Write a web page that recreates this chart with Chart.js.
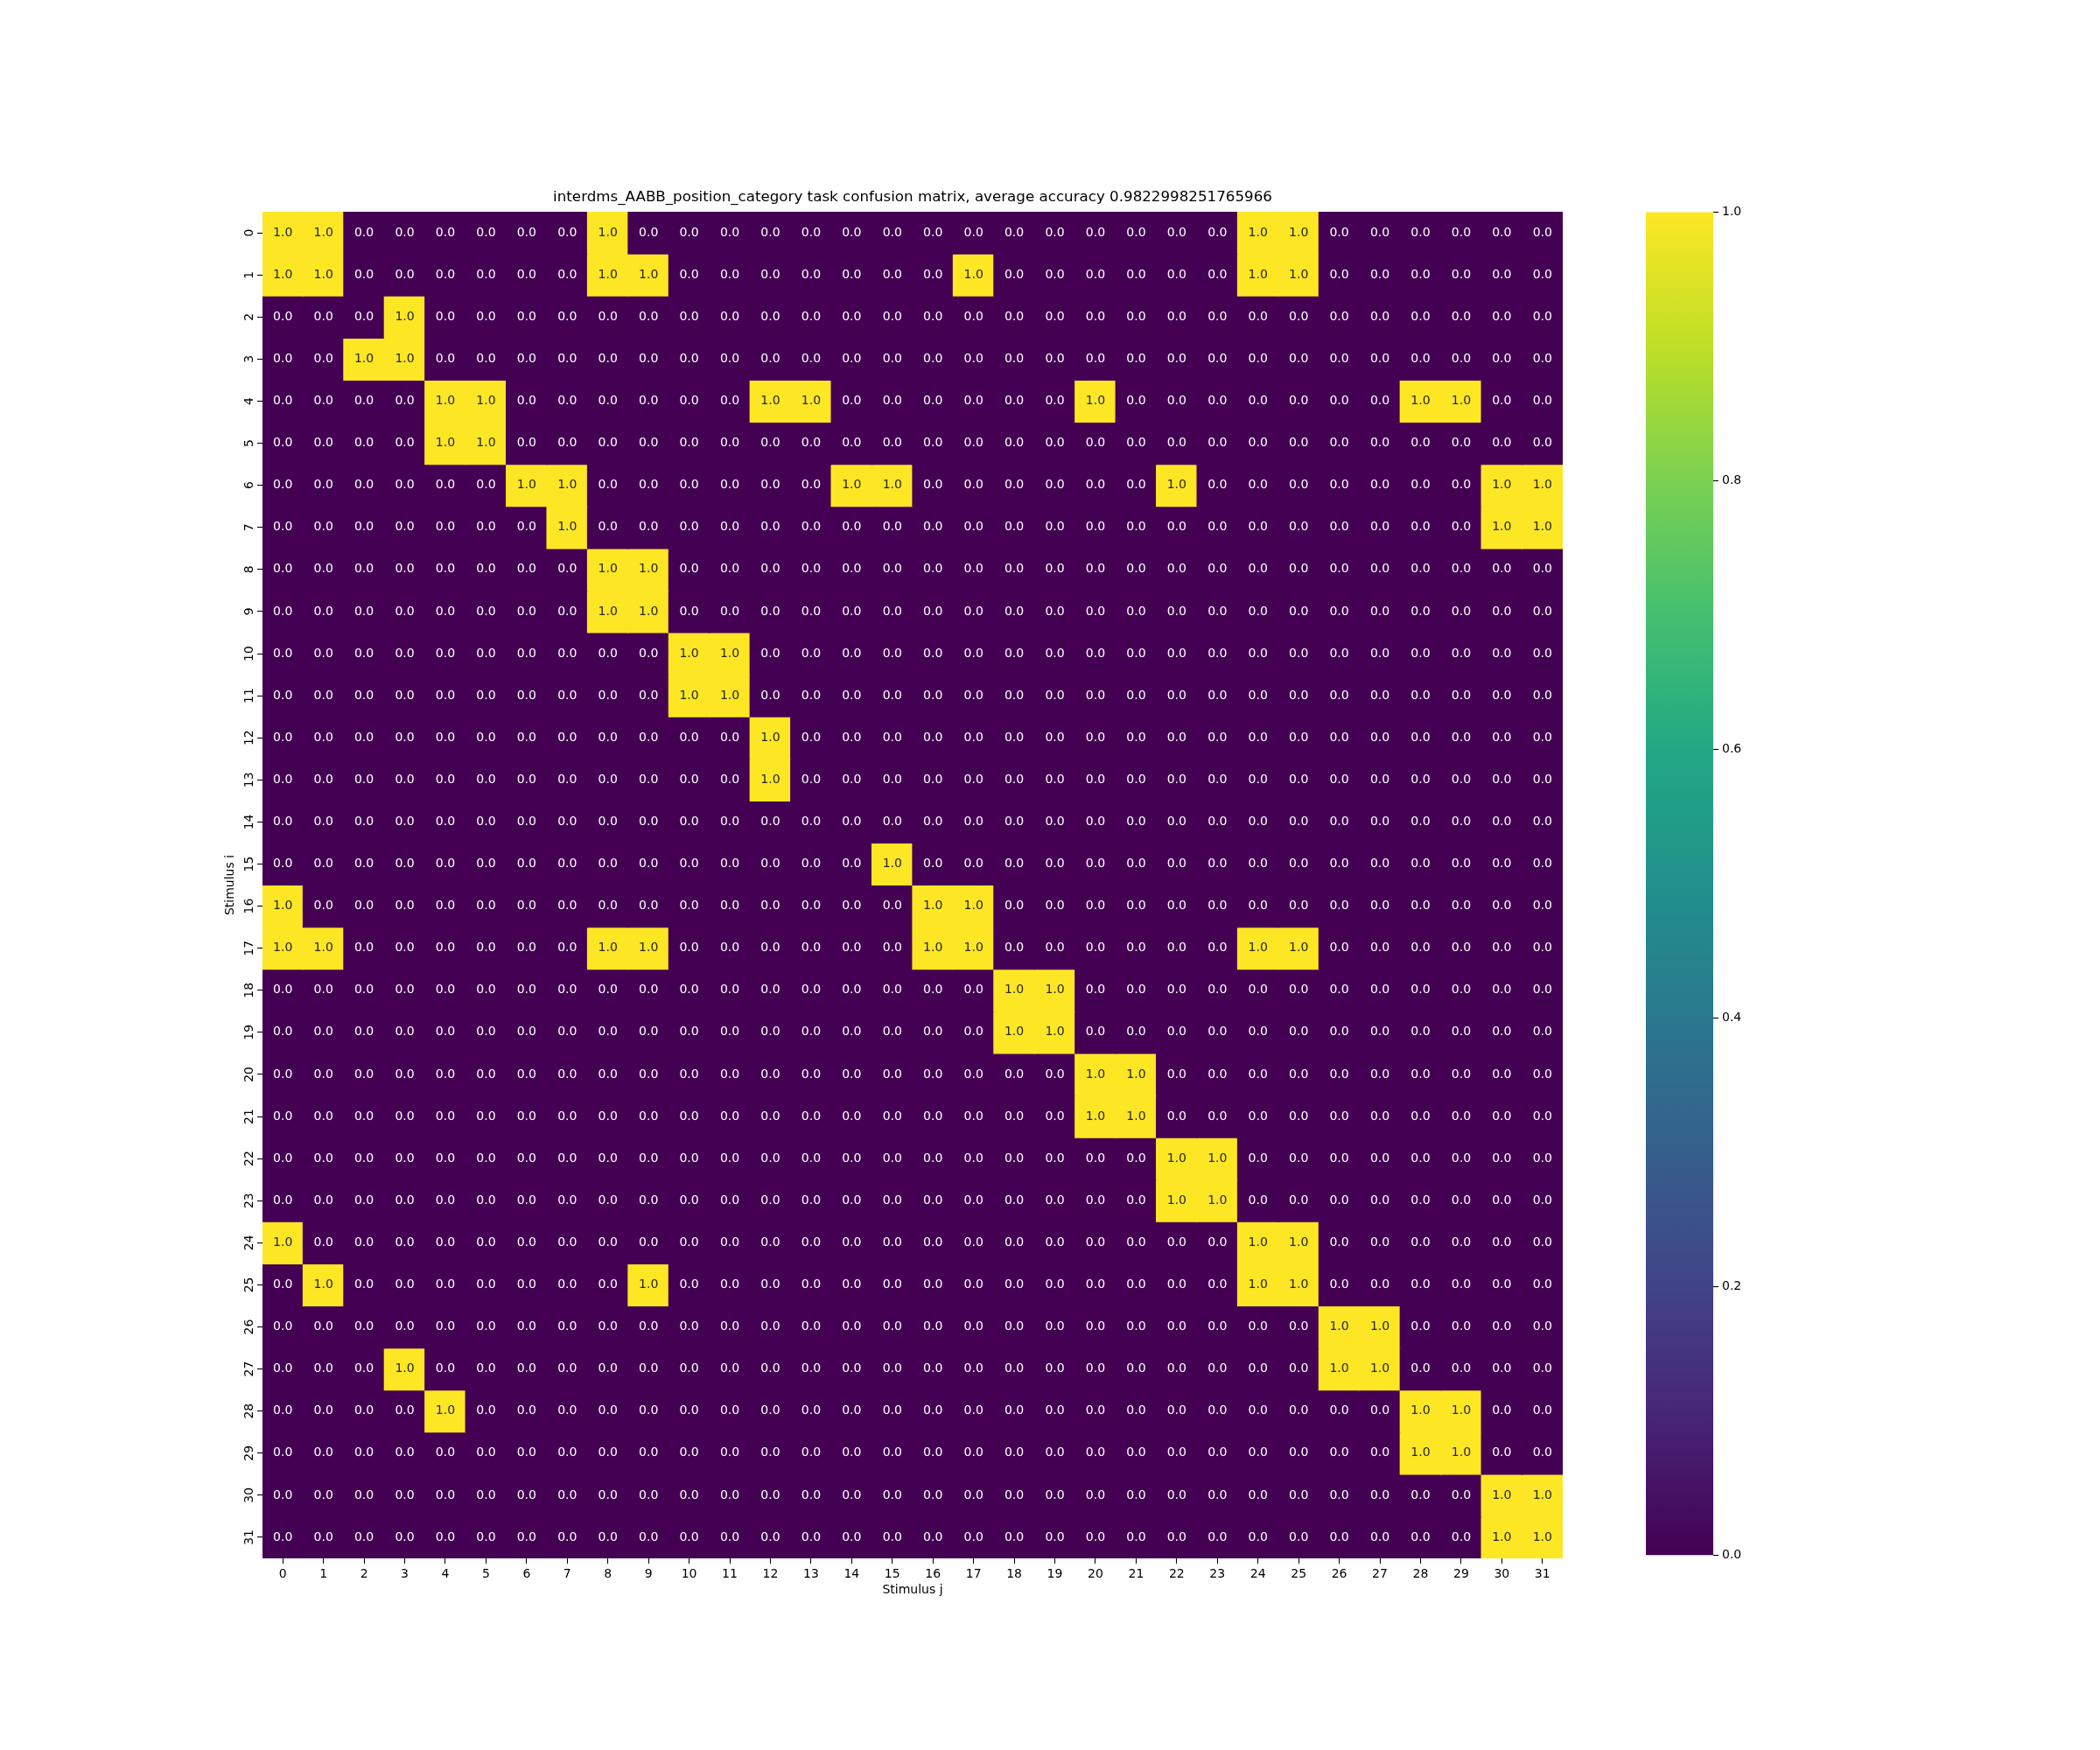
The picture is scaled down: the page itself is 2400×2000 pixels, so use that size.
<!DOCTYPE html>
<html>
<head>
<meta charset="utf-8">
<script src="https://cdn.jsdelivr.net/npm/chart.js@4.4.1/dist/chart.umd.min.js"></script>
<style>
  body { margin: 0; background: #fff; width: 2400px; height: 2000px; position: relative; }
  #heatWrap { position: absolute; left: 255px; top: 0px; width: 1531px; height: 1826px; }
  #barWrap { position: absolute; left: 1881px; top: 230px; width: 137px; height: 1560px; }
</style>
</head>
<body>
<div id="heatWrap"><canvas id="heat"></canvas></div>
<div id="barWrap"><canvas id="cbar"></canvas></div>
<script>
// stimulus labels (rows = i, columns = j)
const rowLabels = Array.from({length: 32}, (_, i) => String(i));
const colLabels = Array.from({length: 32}, (_, j) => String(j));

// confusion matrix, one row per stimulus i
const confusion = [
  [1,1,0,0,0,0,0,0,1,0,0,0,0,0,0,0,0,0,0,0,0,0,0,0,1,1,0,0,0,0,0,0],
  [1,1,0,0,0,0,0,0,1,1,0,0,0,0,0,0,0,1,0,0,0,0,0,0,1,1,0,0,0,0,0,0],
  [0,0,0,1,0,0,0,0,0,0,0,0,0,0,0,0,0,0,0,0,0,0,0,0,0,0,0,0,0,0,0,0],
  [0,0,1,1,0,0,0,0,0,0,0,0,0,0,0,0,0,0,0,0,0,0,0,0,0,0,0,0,0,0,0,0],
  [0,0,0,0,1,1,0,0,0,0,0,0,1,1,0,0,0,0,0,0,1,0,0,0,0,0,0,0,1,1,0,0],
  [0,0,0,0,1,1,0,0,0,0,0,0,0,0,0,0,0,0,0,0,0,0,0,0,0,0,0,0,0,0,0,0],
  [0,0,0,0,0,0,1,1,0,0,0,0,0,0,1,1,0,0,0,0,0,0,1,0,0,0,0,0,0,0,1,1],
  [0,0,0,0,0,0,0,1,0,0,0,0,0,0,0,0,0,0,0,0,0,0,0,0,0,0,0,0,0,0,1,1],
  [0,0,0,0,0,0,0,0,1,1,0,0,0,0,0,0,0,0,0,0,0,0,0,0,0,0,0,0,0,0,0,0],
  [0,0,0,0,0,0,0,0,1,1,0,0,0,0,0,0,0,0,0,0,0,0,0,0,0,0,0,0,0,0,0,0],
  [0,0,0,0,0,0,0,0,0,0,1,1,0,0,0,0,0,0,0,0,0,0,0,0,0,0,0,0,0,0,0,0],
  [0,0,0,0,0,0,0,0,0,0,1,1,0,0,0,0,0,0,0,0,0,0,0,0,0,0,0,0,0,0,0,0],
  [0,0,0,0,0,0,0,0,0,0,0,0,1,0,0,0,0,0,0,0,0,0,0,0,0,0,0,0,0,0,0,0],
  [0,0,0,0,0,0,0,0,0,0,0,0,1,0,0,0,0,0,0,0,0,0,0,0,0,0,0,0,0,0,0,0],
  [0,0,0,0,0,0,0,0,0,0,0,0,0,0,0,0,0,0,0,0,0,0,0,0,0,0,0,0,0,0,0,0],
  [0,0,0,0,0,0,0,0,0,0,0,0,0,0,0,1,0,0,0,0,0,0,0,0,0,0,0,0,0,0,0,0],
  [1,0,0,0,0,0,0,0,0,0,0,0,0,0,0,0,1,1,0,0,0,0,0,0,0,0,0,0,0,0,0,0],
  [1,1,0,0,0,0,0,0,1,1,0,0,0,0,0,0,1,1,0,0,0,0,0,0,1,1,0,0,0,0,0,0],
  [0,0,0,0,0,0,0,0,0,0,0,0,0,0,0,0,0,0,1,1,0,0,0,0,0,0,0,0,0,0,0,0],
  [0,0,0,0,0,0,0,0,0,0,0,0,0,0,0,0,0,0,1,1,0,0,0,0,0,0,0,0,0,0,0,0],
  [0,0,0,0,0,0,0,0,0,0,0,0,0,0,0,0,0,0,0,0,1,1,0,0,0,0,0,0,0,0,0,0],
  [0,0,0,0,0,0,0,0,0,0,0,0,0,0,0,0,0,0,0,0,1,1,0,0,0,0,0,0,0,0,0,0],
  [0,0,0,0,0,0,0,0,0,0,0,0,0,0,0,0,0,0,0,0,0,0,1,1,0,0,0,0,0,0,0,0],
  [0,0,0,0,0,0,0,0,0,0,0,0,0,0,0,0,0,0,0,0,0,0,1,1,0,0,0,0,0,0,0,0],
  [1,0,0,0,0,0,0,0,0,0,0,0,0,0,0,0,0,0,0,0,0,0,0,0,1,1,0,0,0,0,0,0],
  [0,1,0,0,0,0,0,0,0,1,0,0,0,0,0,0,0,0,0,0,0,0,0,0,1,1,0,0,0,0,0,0],
  [0,0,0,0,0,0,0,0,0,0,0,0,0,0,0,0,0,0,0,0,0,0,0,0,0,0,1,1,0,0,0,0],
  [0,0,0,1,0,0,0,0,0,0,0,0,0,0,0,0,0,0,0,0,0,0,0,0,0,0,1,1,0,0,0,0],
  [0,0,0,0,1,0,0,0,0,0,0,0,0,0,0,0,0,0,0,0,0,0,0,0,0,0,0,0,1,1,0,0],
  [0,0,0,0,0,0,0,0,0,0,0,0,0,0,0,0,0,0,0,0,0,0,0,0,0,0,0,0,1,1,0,0],
  [0,0,0,0,0,0,0,0,0,0,0,0,0,0,0,0,0,0,0,0,0,0,0,0,0,0,0,0,0,0,1,1],
  [0,0,0,0,0,0,0,0,0,0,0,0,0,0,0,0,0,0,0,0,0,0,0,0,0,0,0,0,0,0,1,1]
];

// colorbar ticks
const cbarTicks = [0, 0.2, 0.4, 0.6, 0.8, 1.0];

const titleText = "interdms_AABB_position_category task confusion matrix, average accuracy 0.9822998251765966";

// viridis
const viridis = ["#440154", "#482475", "#414487", "#355f8d", "#2a788e", "#21918c",
                 "#22a884", "#44bf70", "#7ad151", "#bddf26", "#fde725"];

Chart.defaults.font.family = '"DejaVu Sans", sans-serif';
Chart.defaults.font.size = 14;
Chart.defaults.color = "#000";
Chart.defaults.animation = false;

function cellColor(v) {
  return v > 0.5 ? viridis[viridis.length - 1] : viridis[0];
}

// write the value inside each cell, like seaborn annot
const annotate = {
  id: "annotate",
  afterDatasetsDraw(chart) {
    const c = chart.ctx;
    c.save();
    c.font = '14px "DejaVu Sans"';
    c.textAlign = "center";
    c.textBaseline = "middle";
    chart.data.datasets.forEach((ds, r) => {
      chart.getDatasetMeta(r).data.forEach((bar, j) => {
        const v = confusion[r][j];
        c.fillStyle = v > 0.5 ? "#262626" : "#ffffff";
        c.fillText(v.toFixed(1), bar.x, (bar.y + bar.base) / 2);
      });
    });
    c.restore();
  }
};

// one dataset per row, each cell is a floating bar [i, i+1]
let datasets = rowLabels.map((lab, r) => ({
  label: lab,
  data: colLabels.map(() => [r, r + 1]),
  backgroundColor: confusion[r].map(cellColor),
  borderWidth: 0,
  inflateAmount: 0.6,
  barPercentage: 1,
  categoryPercentage: 1,
  grouped: false
}));

new Chart(document.getElementById("heat"), {
  type: "bar",
  data: { labels: colLabels, datasets: datasets },
  options: {
    responsive: true,
    maintainAspectRatio: false,
    layout: { padding: { top: 216, left: 0, right: 0, bottom: 0 } },
    plugins: {
      legend: { display: false },
      tooltip: { enabled: false },
      title: {
        display: true,
        text: titleText,
        fullSize: false,
        color: "#000",
        font: { size: 16.7, weight: "normal" },
        padding: { top: 0, bottom: 6 }
      }
    },
    scales: {
      x: {
        type: "category",
        offset: true,
        grid: { display: true, drawOnChartArea: false, drawTicks: true, tickLength: 6, tickColor: "#000", tickWidth: 1.1, offset: false },
        border: { display: false },
        ticks: { autoSkip: false, maxRotation: 0, padding: 4 },
        title: { display: true, text: "Stimulus j", padding: 0, font: { size: 14 } },
        afterFit: axis => { axis.height = 45; }
      },
      y: {
        type: "linear",
        min: 0,
        max: 32,
        reverse: true,
        afterBuildTicks: axis => { axis.ticks = rowLabels.map((_, r) => ({ value: r + 0.5 })); },
        grid: { display: true, drawOnChartArea: false, drawTicks: true, tickLength: 6, tickColor: "#000", tickWidth: 1.1 },
        border: { display: false },
        ticks: {
          autoSkip: false,
          minRotation: 90,
          maxRotation: 90,
          crossAlign: "center",
          padding: 0,
          callback: (v, idx) => rowLabels[idx]
        },
        title: { display: true, text: "Stimulus i", padding: 0, font: { size: 14 } },
        afterFit: axis => { axis.width = 45; }
      }
    }
  },
  plugins: [annotate]
});

// colorbar
new Chart(document.getElementById("cbar"), {
  type: "bar",
  data: {
    labels: [""],
    datasets: [{
      data: [[cbarTicks[0], cbarTicks[cbarTicks.length - 1]]],
      barPercentage: 1,
      categoryPercentage: 1,
      borderWidth: 0,
      backgroundColor: ctx => {
        const a = ctx.chart.chartArea;
        if (!a) return viridis[0];
        const g = ctx.chart.ctx.createLinearGradient(0, a.bottom, 0, a.top);
        viridis.forEach((col, i) => g.addColorStop(i / (viridis.length - 1), col));
        return g;
      }
    }]
  },
  options: {
    responsive: true,
    maintainAspectRatio: false,
    layout: { padding: { top: 10, bottom: 10, left: 0, right: 0 } },
    plugins: { legend: { display: false }, tooltip: { enabled: false } },
    scales: {
      x: { display: false },
      y: {
        position: "right",
        min: 0,
        max: 1,
        afterBuildTicks: axis => { axis.ticks = cbarTicks.map(v => ({ value: v })); },
        grid: { display: true, drawOnChartArea: false, drawTicks: true, tickLength: 6, tickColor: "#000", tickWidth: 1.1 },
        border: { display: false },
        ticks: { padding: 4, callback: v => Number(v).toFixed(1) },
        afterFit: axis => { axis.width = 60; }
      }
    }
  }
});
</script>
</body>
</html>
